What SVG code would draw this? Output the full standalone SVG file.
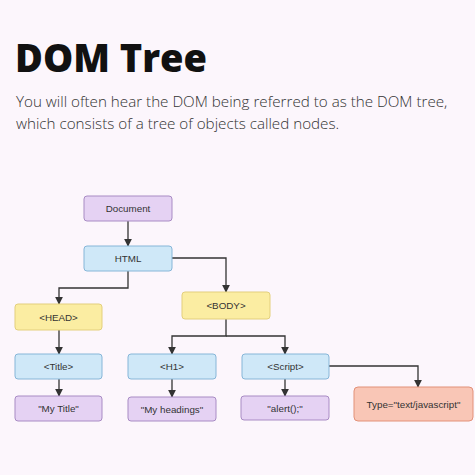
<svg xmlns="http://www.w3.org/2000/svg" width="475" height="475" viewBox="0 0 475 475">
<defs>
<marker id="ah" viewBox="0 0 10 10" refX="9" refY="5" markerWidth="8" markerHeight="8" markerUnits="userSpaceOnUse" orient="auto">
<path d="M0,0 L10,5 L0,10 z" fill="#333"/>
</marker>
</defs>
<style>
.bg{fill:#fcf6fc}
.title{font-family:"Open Sans","Liberation Sans",sans-serif;font-weight:800;font-size:38px;fill:#111}
.sub{font-family:"Open Sans","Liberation Sans",sans-serif;font-weight:300;font-size:15.2px;fill:#333}
.lbl{font-family:"Liberation Sans",Arial,sans-serif;font-size:9.8px;fill:#333;text-anchor:middle;dominant-baseline:central}
.purple{fill:#e5d2f3;stroke:#a88bc4;stroke-width:1}
.blue{fill:#cfe8f8;stroke:#86b6d8;stroke-width:1}
.yellow{fill:#fbeda2;stroke:#e3cf7c;stroke-width:1}
.red{fill:#f9c6b6;stroke:#e29179;stroke-width:1}
.edge{fill:none;stroke:#333;stroke-width:1.3;marker-end:url(#ah)}
</style>
<rect class="bg" width="475" height="475"/>
<text class="title" x="15" y="72">DOM Tree</text>
<text class="sub" x="16" y="107">You will often hear the DOM being referred to as the DOM tree,</text>
<text class="sub" x="16" y="129">which consists of a tree of objects called nodes.</text>
<g id="connectors">
<path class="edge" d="M128,221 V246"/>
<path class="edge" d="M172,258 H226 V292"/>
<path class="edge" d="M128,271 V288 H59 V304"/>
<path class="edge" d="M59,330 V354"/>
<path class="edge" d="M226,319 V336 H172 V354"/>
<path class="edge" d="M226,336 H285 V354"/>
<path class="edge" d="M59,379 V396"/>
<path class="edge" d="M172,379 V397"/>
<path class="edge" d="M285,379 V396"/>
<path class="edge" d="M329,366 H418 V387"/>
</g>
<g id="document"><rect class="purple" x="84" y="196" width="88" height="25" rx="3"/><text class="lbl" x="128" y="208.5">Document</text></g>
<g id="html"><rect class="blue" x="84" y="246" width="88" height="25" rx="3"/><text class="lbl" x="128" y="258.5">HTML</text></g>
<g id="head"><rect class="yellow" x="15" y="304" width="87" height="26" rx="3"/><text class="lbl" x="58.5" y="317">&lt;HEAD&gt;</text></g>
<g id="body"><rect class="yellow" x="182" y="292" width="88" height="27" rx="3"/><text class="lbl" x="226" y="305.5">&lt;BODY&gt;</text></g>
<g id="title"><rect class="blue" x="15" y="354" width="87" height="25" rx="3"/><text class="lbl" x="58.5" y="366.5">&lt;Title&gt;</text></g>
<g id="h1"><rect class="blue" x="128" y="354" width="88" height="25" rx="3"/><text class="lbl" x="172" y="366.5">&lt;H1&gt;</text></g>
<g id="script"><rect class="blue" x="242" y="354" width="87" height="25" rx="3"/><text class="lbl" x="285.5" y="366.5">&lt;Script&gt;</text></g>
<g id="mytitle"><rect class="purple" x="15" y="396" width="87" height="25" rx="3"/><text class="lbl" x="58.5" y="408.5">"My Title"</text></g>
<g id="myheadings"><rect class="purple" x="128" y="397" width="88" height="24" rx="3"/><text class="lbl" x="172" y="409">"My headings"</text></g>
<g id="alert"><rect class="purple" x="241" y="396" width="88" height="24" rx="3"/><text class="lbl" x="285" y="408">"alert();"</text></g>
<g id="type"><rect class="red" x="354" y="387" width="119" height="34" rx="4"/><text class="lbl" x="413.5" y="404">Type="text/javascript"</text></g>
</svg>
